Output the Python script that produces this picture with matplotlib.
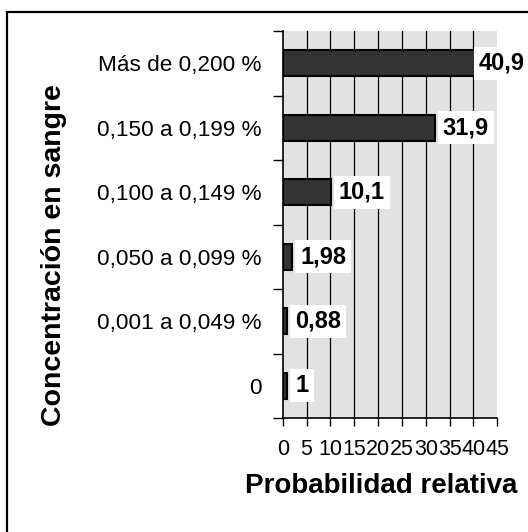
import matplotlib
matplotlib.use("Agg")
import matplotlib.pyplot as plt
from matplotlib.patches import Rectangle
import numpy as np

plt.rcParams['font.family'] = ['Liberation Sans', 'DejaVu Sans']
plt.rcParams['hatch.color'] = '#b8b8b8'
plt.rcParams['hatch.linewidth'] = 0.6

# Blood alcohol concentration bands (bottom to top) and relative probability
categories = ["0", "0,001 a 0,049 %", "0,050 a 0,099 %", "0,100 a 0,149 %",
              "0,150 a 0,199 %", "Más de 0,200 %"]
values = [1, 0.88, 1.98, 10.1, 31.9, 40.9]
value_labels = ["1", "0,88", "1,98", "10,1", "31,9", "40,9"]
x_ticks = [0, 5, 10, 15, 20, 25, 30, 35, 40, 45]

W, H = 528, 532
fig = plt.figure(figsize=(W / 100, H / 100), dpi=100)
fig.patch.set_facecolor("white")

# chart border (left and top edges visible)
fig.patches.append(Rectangle((7 / W, -0.1), 1.2, (H - 12) / H + 0.1,
                             transform=fig.transFigure, fill=False,
                             edgecolor="black", linewidth=1.6))

ax = fig.add_axes([282.7 / W, 114 / H, 214.6 / W, 387 / H])
ax.set_facecolor("#e2e2e2")
# dotted plot-area fill
ax.add_patch(Rectangle((0, 0), 1, 1, transform=ax.transAxes,
                       facecolor="none", edgecolor="none", hatch="....",
                       zorder=0))

y = np.arange(len(categories))
ax.barh(y, values, height=0.4, color="#333333", edgecolor="black",
        linewidth=1.5, zorder=3)

ax.set_xlim(0, 45)
ax.set_ylim(-0.5, len(categories) - 0.5)

# vertical gridlines
for xv in x_ticks[1:-1]:
    ax.axvline(xv, color="black", linewidth=0.9, zorder=1)

for s in ["top", "right"]:
    ax.spines[s].set_visible(False)
for s in ["left", "bottom"]:
    ax.spines[s].set_color("black")
    ax.spines[s].set_linewidth(1.2)

ax.set_xticks(x_ticks)
ax.set_xticklabels([str(t) for t in x_ticks], fontsize=15.5)
ax.tick_params(axis="x", direction="out", length=6, width=1, pad=9)

ax.set_yticks(y)
ax.set_yticklabels(categories, fontsize=16.2)
ax.tick_params(axis="y", which="major", length=0, pad=15)
ax.set_yticks(np.arange(-0.5, len(categories)), minor=True)
ax.tick_params(axis="y", which="minor", direction="out", length=7, width=1)

for yi, v, lab in zip(y, values, value_labels):
    off = 1 if v > 40 else 8
    ax.annotate(lab, xy=(v, yi), xytext=(off, 0), textcoords="offset pixels",
                ha="left", va="center", fontsize=17, fontweight="bold",
                annotation_clip=False, zorder=5,
                bbox=dict(boxstyle="square,pad=0.22", facecolor="white",
                          edgecolor="none"))

fig.text(381.5 / W, (H - 493) / H, "Probabilidad relativa", ha="center",
         va="baseline", fontsize=20, fontweight="bold")
fig.text(54 / W, (H - 255) / H, "Concentración en sangre", ha="center",
         va="center", rotation=90, fontsize=20.5, fontweight="bold")

fig.savefig("out.png", dpi=100)
